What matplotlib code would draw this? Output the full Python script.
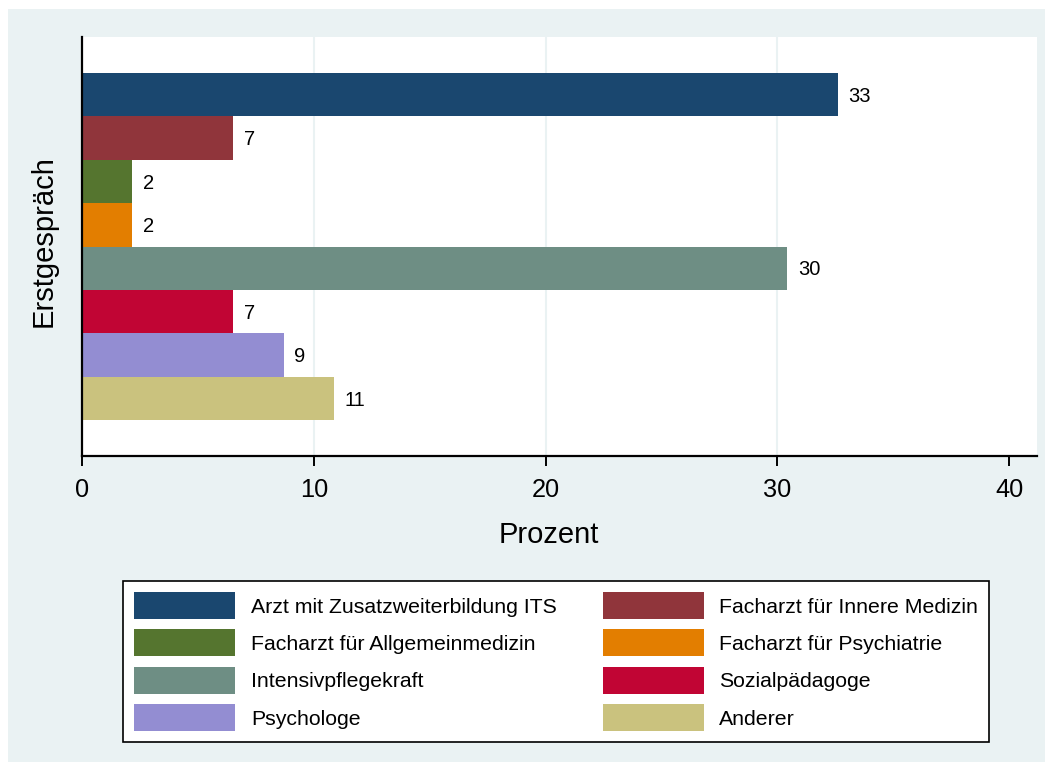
import matplotlib.pyplot as plt
from matplotlib.patches import Rectangle, Patch

plt.rcParams["font.family"] = ["Liberation Sans", "DejaVu Sans"]

# Erstgespräch: Anteil je Berufsgruppe (n = 46)
gruppen = ["Arzt mit Zusatzweiterbildung ITS", "Facharzt für Innere Medizin",
           "Facharzt für Allgemeinmedizin", "Facharzt für Psychiatrie",
           "Intensivpflegekraft", "Sozialpädagoge", "Psychologe", "Anderer"]
anzahl = [15, 3, 1, 1, 14, 3, 4, 5]
prozent = [a / sum(anzahl) * 100 for a in anzahl]
farben = ["#1a476f", "#90353b", "#55752f", "#e37e00",
          "#6e8e84", "#c10534", "#938dd2", "#cac27e"]
xticks = [0, 10, 20, 30, 40]

fig = plt.figure(figsize=(10.52, 7.71), dpi=100, facecolor="white")
fig.patches.append(Rectangle((8 / 1052, 1 - 762 / 771), 1037 / 1052, 753 / 771,
                             transform=fig.transFigure, facecolor="#eaf2f3",
                             edgecolor="none", zorder=-10))

ax = fig.add_axes([82 / 1052, 1 - 456 / 771, 955 / 1052, 419 / 771])
ax.set_facecolor("white")

pos = list(range(len(prozent)))
ax.barh(pos, prozent, height=1.0, color=farben, edgecolor="none", zorder=2)
for p, v in zip(pos, prozent):
    ax.text(v + 0.45, p + 0.04, f"{v:.0f}", va="center", ha="left", fontsize=14.5)

rand = 36 / 43.4
ax.set_ylim(len(pos) - 0.5 + rand, -0.5 - rand)
ax.set_xlim(0, 41.2)
ax.set_xticks(xticks)
ax.set_xticklabels([str(t) for t in xticks], fontsize=18.3)
ax.set_yticks([])
for x in xticks[1:-1]:
    ax.axvline(x, color="#eaf2f3", linewidth=1.5, zorder=1)

ax.spines["top"].set_visible(False)
ax.spines["right"].set_visible(False)
ax.spines["left"].set_linewidth(1.6)
ax.spines["bottom"].set_linewidth(1.6)
ax.tick_params(axis="x", length=7.5, width=1.4, pad=8)

ax.set_xlabel("Prozent", fontsize=21)
ax.set_ylabel("Erstgespräch", fontsize=21)
ax.xaxis.set_label_coords(0.4885, -0.154)
ax.yaxis.set_label_coords(-0.025, 0.513)

# Legende zeilenweise wie im Original: Spalte 1 = gerade, Spalte 2 = ungerade
reihenfolge = [0, 2, 4, 6, 1, 3, 5, 7]
handles = [Patch(facecolor=farben[i], edgecolor="none") for i in reihenfolge]
labels = [gruppen[i] for i in reihenfolge]
leg = fig.legend(handles, labels, ncol=2, loc="upper left",
                 bbox_to_anchor=(123 / 1052, 1 - 581 / 771), borderaxespad=0,
                 fontsize=15.3, frameon=True, fancybox=False, framealpha=1,
                 edgecolor="black", handlelength=4.75, handleheight=1.58,
                 handletextpad=0.75, labelspacing=0.485, columnspacing=2.16,
                 borderpad=0.52)
leg.get_frame().set_linewidth(1.2)

fig.savefig("out.png", dpi=100, facecolor="white")
